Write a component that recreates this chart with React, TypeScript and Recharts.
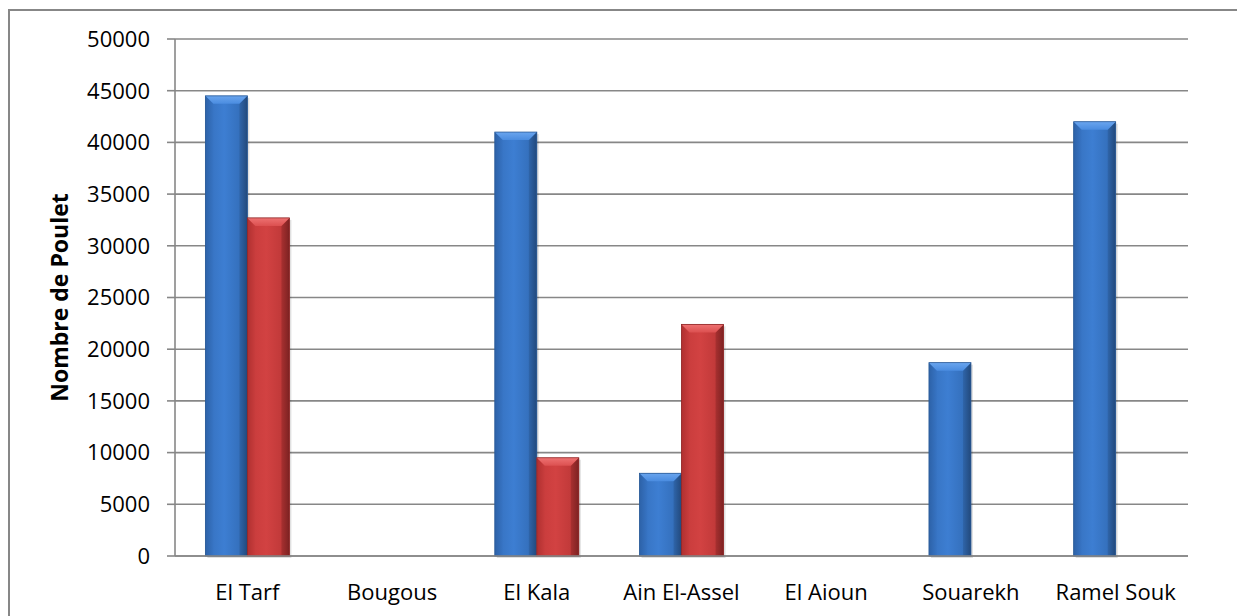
import React from "react";
import { BarChart, Bar, XAxis, YAxis, CartesianGrid, Label } from "recharts";

const categories = ["El Tarf", "Bougous", "El Kala", "Ain El-Assel", "El Aioun", "Souarekh", "Ramel Souk"];
const serie1 = [44500, 0, 41000, 8000, 0, 18700, 42000];
const serie2 = [32700, 0, 9500, 22400, 0, 0, 0];
const yTicks = [0, 5000, 10000, 15000, 20000, 25000, 30000, 35000, 40000, 45000, 50000];

const data = categories.map((name, i) => ({ name, s1: serie1[i], s2: serie2[i] }));

const FONT = "'Open Sans', 'Noto Sans', sans-serif";
const GRID = "#878787";

function BevelBar(props: any) {
  const { x, y, width, height, kind } = props;
  if (!height || height <= 0) return null;
  const b = Math.min(8, height / 2);
  const p = kind === "blue" ? "b" : "r";
  return (
    <g>
      <rect x={x + 2} y={y + 2} width={width} height={height} fill="rgba(0,0,0,0.12)" />
      <rect x={x} y={y} width={width} height={height} fill={`url(#${p}body)`} />
      <polygon
        points={`${x},${y} ${x + b},${y + b} ${x + b},${y + height} ${x},${y + height}`}
        fill={`url(#${p}left)`}
      />
      <polygon
        points={`${x + width},${y} ${x + width - b},${y + b} ${x + width - b},${y + height} ${x + width},${y + height}`}
        fill={`url(#${p}right)`}
      />
      <polygon
        points={`${x},${y} ${x + width},${y} ${x + width - b},${y + b} ${x + b},${y + b}`}
        fill={`url(#${p}top)`}
      />
      <rect x={x} y={y} width={width} height={height} fill="none" stroke={kind === "blue" ? "#2a5a96" : "#8e2626"} strokeWidth={0.8} />
    </g>
  );
}

export default function App() {
  return (
    <div style={{ position: "absolute", left: 0, top: 0, width: 1237, height: 616, overflow: "hidden", background: "#fff" }}>
      <div
        style={{
          position: "absolute",
          left: 8,
          top: 9,
          width: 1240,
          height: 620,
          borderLeft: `2px solid ${GRID}`,
          borderTop: `2px solid ${GRID}`,
          boxSizing: "border-box",
        }}
      />
      <div style={{ position: "absolute", left: 0, top: 0 }}>
        <BarChart
          width={1237}
          height={616}
          data={data}
          margin={{ top: 39, right: 49, bottom: 0, left: 0 }}
          barCategoryGap="21%"
          barGap={0}
        >
          <defs>
            <linearGradient id="bbody" x1="0" y1="0" x2="1" y2="0">
              <stop offset="0" stopColor="#3570bd" />
              <stop offset="0.45" stopColor="#3d7ed2" />
              <stop offset="1" stopColor="#3069b2" />
            </linearGradient>
            <linearGradient id="bleft" x1="0" y1="0" x2="1" y2="0">
              <stop offset="0" stopColor="#2d62a8" />
              <stop offset="1" stopColor="#3774c4" />
            </linearGradient>
            <linearGradient id="bright" x1="0" y1="0" x2="1" y2="0">
              <stop offset="0" stopColor="#2f65aa" />
              <stop offset="1" stopColor="#22497c" />
            </linearGradient>
            <linearGradient id="btop" x1="0" y1="0" x2="0" y2="1">
              <stop offset="0" stopColor="#6aa5ee" />
              <stop offset="1" stopColor="#4a8ce0" />
            </linearGradient>
            <linearGradient id="rbody" x1="0" y1="0" x2="1" y2="0">
              <stop offset="0" stopColor="#c53a3a" />
              <stop offset="0.45" stopColor="#d24242" />
              <stop offset="1" stopColor="#b83535" />
            </linearGradient>
            <linearGradient id="rleft" x1="0" y1="0" x2="1" y2="0">
              <stop offset="0" stopColor="#b03030" />
              <stop offset="1" stopColor="#c93d3d" />
            </linearGradient>
            <linearGradient id="rright" x1="0" y1="0" x2="1" y2="0">
              <stop offset="0" stopColor="#a83030" />
              <stop offset="1" stopColor="#7d2222" />
            </linearGradient>
            <linearGradient id="rtop" x1="0" y1="0" x2="0" y2="1">
              <stop offset="0" stopColor="#ee7272" />
              <stop offset="1" stopColor="#dc5050" />
            </linearGradient>
          </defs>
          <CartesianGrid vertical={false} stroke={GRID} strokeWidth={1.6} />
          <XAxis
            dataKey="name"
            height={60}
            axisLine={{ stroke: GRID, strokeWidth: 1.6 }}
            tickLine={false}
            tickMargin={22}
            interval={0}
            tick={{ fill: "#000", fontSize: 22, fontFamily: FONT }}
          />
          <YAxis
            domain={[0, 50000]}
            ticks={yTicks}
            interval={0}
            width={175}
            axisLine={{ stroke: GRID, strokeWidth: 1.6 }}
            tickLine={{ stroke: GRID, strokeWidth: 1.6 }}
            tickSize={8}
            tickMargin={17}
            tick={{ fill: "#000", fontSize: 22, fontFamily: FONT }}
          >
            <Label
              value="Nombre de Poulet"
              angle={-90}
              position="insideLeft"
              offset={60}
              textAnchor="middle"
              style={{ fontSize: 23, fontWeight: 700, fontFamily: FONT, fill: "#000", textAnchor: "middle" }}
            />
          </YAxis>
          <Bar dataKey="s1" name="Série 1" isAnimationActive={false} shape={(p: any) => <BevelBar {...p} kind="blue" />} />
          <Bar dataKey="s2" name="Série 2" isAnimationActive={false} shape={(p: any) => <BevelBar {...p} kind="red" />} />
        </BarChart>
      </div>
    </div>
  );
}
